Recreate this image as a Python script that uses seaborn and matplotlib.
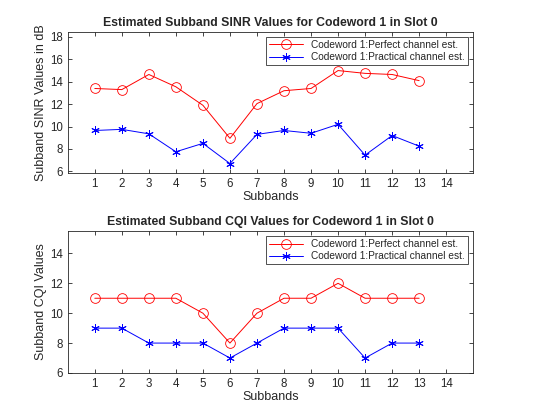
import numpy as np
import pandas as pd
import seaborn as sns
import matplotlib.pyplot as plt

subbands = list(range(1, 14))
sinr_perfect = [13.4, 13.3, 14.65, 13.55, 11.9, 8.95, 12.05, 13.2, 13.4, 15.0, 14.75, 14.65, 14.1]
sinr_practical = [9.65, 9.75, 9.35, 7.75, 8.5, 6.7, 9.3, 9.65, 9.4, 10.2, 7.45, 9.2, 8.25]
cqi_perfect = [11, 11, 11, 11, 10, 8, 10, 11, 11, 12, 11, 11, 11]
cqi_practical = [9, 9, 8, 8, 8, 7, 8, 9, 9, 9, 7, 8, 8]

lbl_perfect = 'Codeword 1:Perfect channel est.'
lbl_practical = 'Codeword 1:Practical channel est.'

sns.set_style('ticks')
plt.rcParams['font.family'] = ['Liberation Sans', 'DejaVu Sans']

fig = plt.figure(figsize=(5.6, 4.2), dpi=100)
ax1 = fig.add_axes([0.121, 0.588, 0.724, 0.336])
ax2 = fig.add_axes([0.121, 0.112, 0.724, 0.338])

def draw(ax, perf, prac, title, ylabel, ylim, yticks):
    df = pd.DataFrame({'x': subbands, 'perf': perf, 'prac': prac})
    sns.lineplot(data=df, x='x', y='perf', ax=ax, color='red', marker='o',
                 markerfacecolor='none', markeredgecolor='red', markersize=7,
                 markeredgewidth=0.6, linewidth=0.7, label=lbl_perfect)
    sns.lineplot(data=df, x='x', y='prac', ax=ax, color='blue', marker=(6, 2, 0),
                 markeredgecolor='blue', markersize=6, markeredgewidth=0.7,
                 linewidth=0.7, label=lbl_practical)
    ax.set_xlim(0, 15)
    ax.set_xticks(range(1, 15))
    ax.set_ylim(*ylim)
    ax.set_yticks(yticks)
    ax.tick_params(direction='in', top=True, right=True, labelsize=8.3,
                   length=3, width=0.6, colors='#262626')
    for s in ax.spines.values():
        s.set_visible(True)
        s.set_linewidth(0.6)
        s.set_color('#262626')
    ax.set_xlabel('Subbands', fontsize=9, labelpad=1, color='#262626')
    ax.set_ylabel(ylabel, fontsize=9, labelpad=2, color='#262626')
    ax.set_title(title, fontsize=8.8, fontweight='bold', pad=4)
    leg = ax.legend(loc='upper right', fontsize=7.3, frameon=True, fancybox=False,
                    edgecolor='black', borderpad=0.3, labelspacing=0.2,
                    handlelength=3.4, borderaxespad=0.5)
    leg.get_frame().set_linewidth(0.6)

draw(ax1, sinr_perfect, sinr_practical,
     'Estimated Subband SINR Values for Codeword 1 in Slot 0',
     'Subband SINR Values in dB', (5.85, 18.45), range(6, 19, 2))
draw(ax2, cqi_perfect, cqi_practical,
     'Estimated Subband CQI Values for Codeword 1 in Slot 0',
     'Subband CQI Values', (6, 15.5), range(6, 15, 2))

fig.savefig('out.png', dpi=100)
